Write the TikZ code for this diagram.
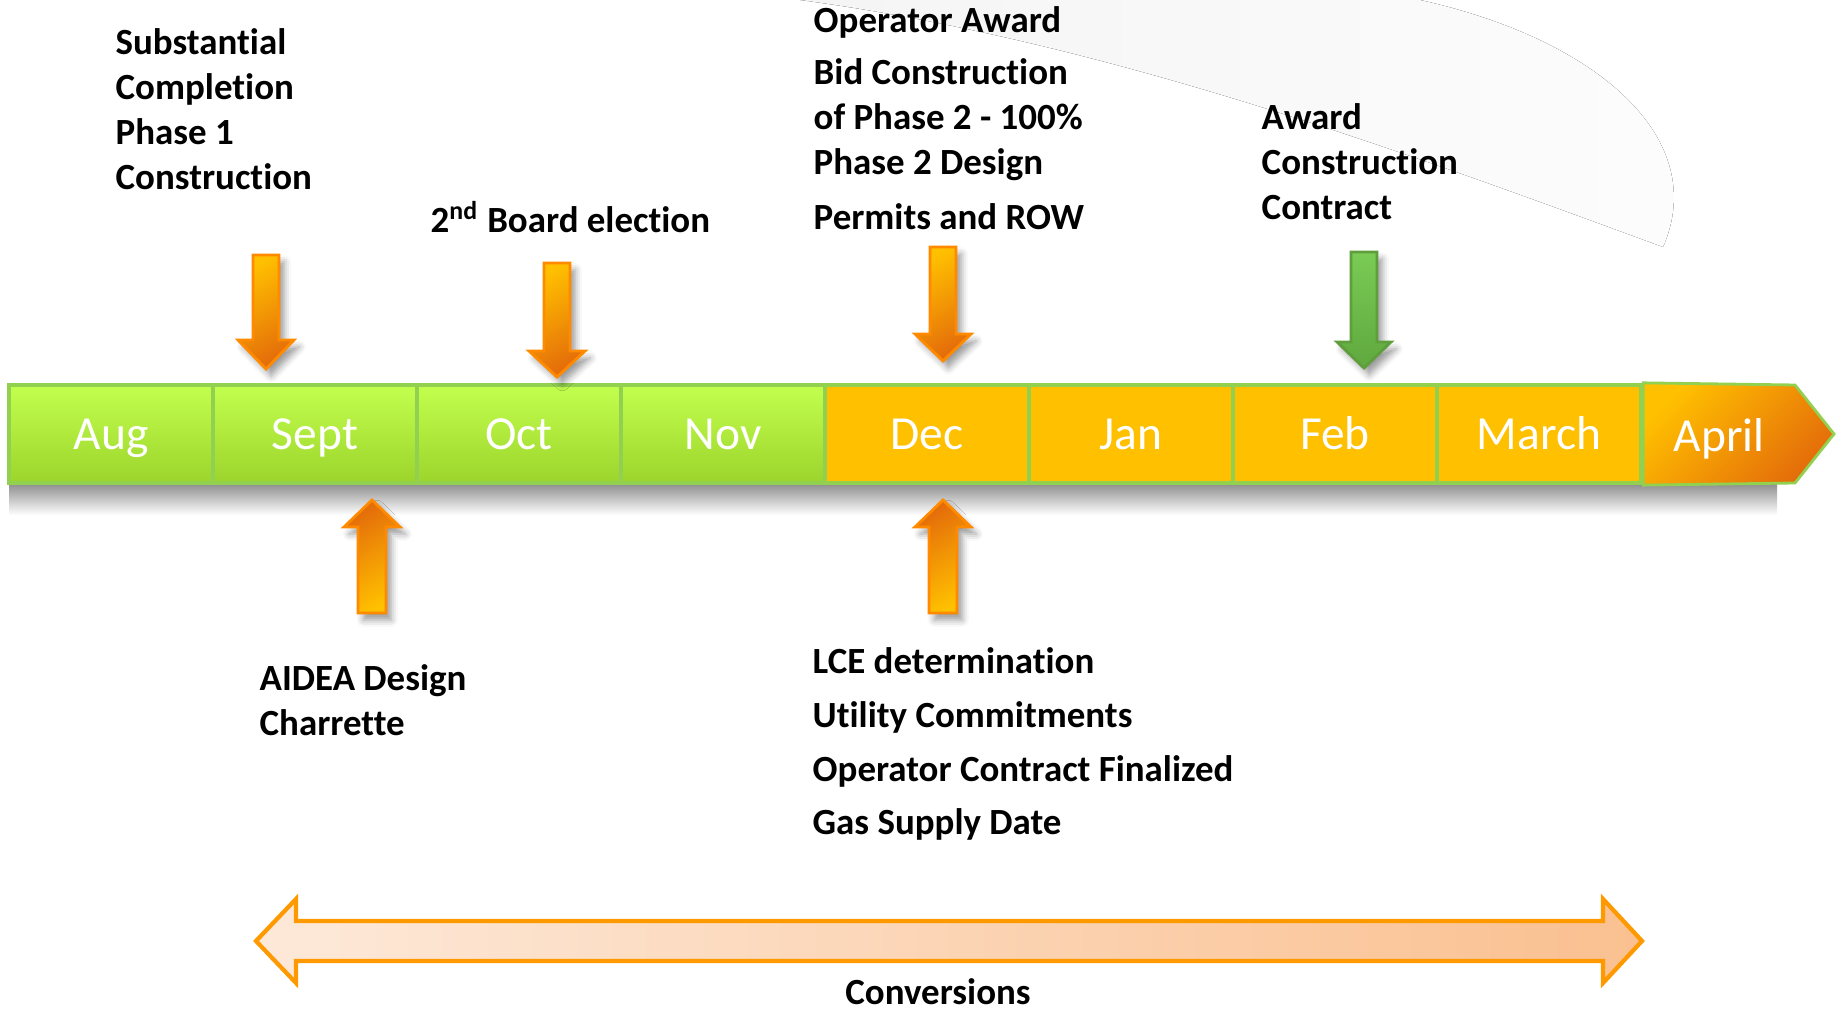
\documentclass[tikz,border=0pt]{standalone}
\usepackage{fontspec}
\setmainfont[Ligatures=NoCommon]{Carlito}
\usetikzlibrary{shadows.blur}

\definecolor{limetop}{HTML}{C2FF4D}
\definecolor{limebot}{HTML}{9CD42C}
\definecolor{monthline}{HTML}{92D050}
\definecolor{gold}{HTML}{FFC000}
\definecolor{burnt}{HTML}{E46C0A}
\definecolor{arrowline}{HTML}{FF8A00}
\definecolor{leaf}{HTML}{7ACB55}
\definecolor{leafdark}{HTML}{5FA83E}
\definecolor{leafline}{HTML}{5E9E3C}
\definecolor{peach}{HTML}{FDE9D9}
\definecolor{apricot}{HTML}{FAC090}
\definecolor{amber}{HTML}{FF9900}

\tikzset{
    monthbox/.style={draw=monthline, line width=1.2pt, minimum width=2.04cm, minimum height=0.98cm,
        inner sep=0pt, text=white, font=\fontsize{13.5}{16}\selectfont, text height=8.7pt, text depth=0pt},
    greenmonth/.style={monthbox, top color=limetop, bottom color=limebot},
    goldmonth/.style={monthbox, fill=gold},
    milestone/.style={font=\bfseries\fontsize{10.5}{12.8}\selectfont, align=left, inner sep=0pt, anchor=base west},
    downarrow/.style={draw=arrowline, line width=0.8pt, top color=gold, bottom color=burnt, shading angle=30,
        blur shadow={shadow xshift=1.5pt, shadow yshift=-2pt}},
    uparrow/.style={downarrow, top color=burnt, bottom color=gold, shading angle=30},
}

\begin{document}
\begin{tikzpicture}[x=0.01cm, y=-0.01cm]
    \useasboundingbox (0,0) rectangle (1839,1010);

    % background swoosh
    \fill[left color=black!4, right color=black!1] (800,0) -- (1420,0) .. controls (1600,40) and (1710,140) .. (1663,247)
        .. controls (1400,150) and (1100,40) .. (800,0) -- cycle;

    % shadow under the bar
    \fill[top color=black!45, bottom color=white] (9,483) rectangle (1777,515);

    % months
    \foreach \m [count=\i from 0] in {Aug,Sept,Oct,Nov}
        \node[greenmonth] (\m) at (111+204*\i, 434) {\m};
    \foreach \m [count=\i from 4] in {Dec,Jan,Feb,March}
        \node[goldmonth] (\m) at (111+204*\i, 434) {\m};
    \draw[monthline, line width=0.8pt, top color=gold, bottom color=burnt, shading angle=45]
        (March.north east) -- (1795,385) -- (1834,434) -- (1795,483) -- (March.south east) -- cycle;
    \node[text=white, font=\fontsize{13.5}{16}\selectfont, text height=8.7pt, text depth=0pt] (April) at (1719,436) {April};

    % event arrows
    \foreach \cx/\yt/\yh/\yb in {266/255/340/369, 557/263/351/377, 943/247/334/361}
        \draw[downarrow] (\cx-13,\yt) -- (\cx+13,\yt) -- (\cx+13,\yh) -- (\cx+28,\yh) -- (\cx,\yb)
            -- (\cx-28,\yh) -- (\cx-13,\yh) -- cycle;
    \draw[downarrow, draw=leafline, top color=leaf, bottom color=leafdark, shading angle=0]
        (1351,252) -- (1377,252) -- (1377,342) -- (1391,342) -- (1364,368) -- (1337,342) -- (1351,342) -- cycle;
    \foreach \cx in {372, 943}
        \draw[uparrow] (\cx-14,613) -- (\cx+14,613) -- (\cx+14,527) -- (\cx+28,527) -- (\cx,500)
            -- (\cx-28,527) -- (\cx-14,527) -- cycle;

    % milestones (base = last line)
    \node[milestone] (phaseone) at (115,190) {Substantial\\Completion\\Phase 1\\Construction};
    \node[milestone] (board) at (430,233) {2\textsuperscript{nd} Board election};
    \node[milestone] (operator) at (813,33) {Operator Award};
    \node[milestone] (bid) at (813,175) {Bid Construction\\of Phase 2 - 100\%\\Phase 2 Design};
    \node[milestone] (permits) at (813,230) {Permits and ROW};
    \node[milestone] (award) at (1261,220) {Award\\Construction\\Contract};
    \node[milestone] (aidea) at (259,736) {AIDEA Design\\Charrette};
    \node[milestone, font=\bfseries\fontsize{10.5}{15.3}\selectfont] (lce) at (812,835)
        {LCE determination\\Utility Commitments\\Operator Contract Finalized\\Gas Supply Date};

    % conversions
    \draw[amber, line width=1.2pt, left color=peach, right color=apricot]
        (256,941) -- (296,899) -- (296,921) -- (1603,921) -- (1603,899) -- (1642,941)
        -- (1603,983) -- (1603,961) -- (296,961) -- (296,983) -- cycle;
    \node[milestone, anchor=base] (conversions) at (938,1004) {Conversions};
\end{tikzpicture}
\end{document}
